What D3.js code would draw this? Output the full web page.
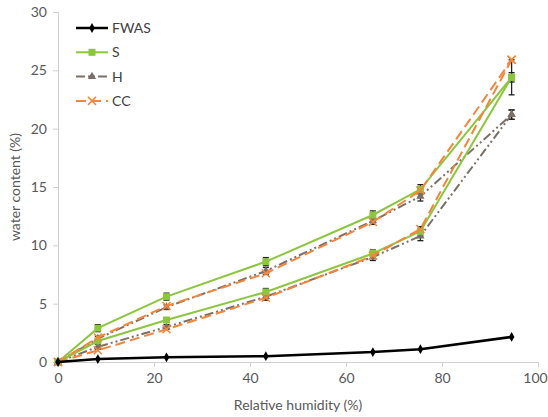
<!DOCTYPE html>
<html>
<head>
<meta charset="utf-8">
<title>Water content vs relative humidity</title>
<script src="https://d3js.org/d3.v7.min.js"></script>
<style>
  body { margin: 0; background: #fff; font-family: Lato, "Open Sans", sans-serif; }
</style>
</head>
<body>
<svg id="chart"></svg>
<script>
// relative humidity points (%)
var rh = [0, 8.3, 22.6, 43.3, 65.6, 75.5, 94.5];

// water content (%) - lower branch = sorption, upper branch = desorption
var fwas = [0, 0.25, 0.4, 0.5, 0.85, 1.1, 2.15];
var sLow = [0, 1.8, 3.6, 6.0, 9.3, 11.2, 24.4];
var sHigh = [0, 2.9, 5.6, 8.6, 12.6, 14.8, 24.4];
var hLow = [0, 1.3, 3.0, 5.6, 9.0, 10.8, 21.2];
var hHigh = [0, 2.0, 4.7, 7.8, 12.1, 14.2, 21.2];
var ccLow = [0, 1.0, 2.8, 5.5, 9.1, 11.4, 25.9];
var ccHigh = [0, 2.1, 4.8, 7.6, 12.0, 14.7, 25.9];

// error bar half-heights
var sErr = [0, 0.3, 0.3, 0.35, 0.35, 0.4, 1.5];
var hErr = [0, 0.2, 0.2, 0.3, 0.3, 0.4, 0.4];

var xTicks = [0, 20, 40, 60, 80, 100];
var yTicks = [0, 5, 10, 15, 20, 25, 30];

var W = 548, H = 417;
var margin = {top: 12, right: 10, bottom: 55, left: 58},
    width = 538 - margin.left,
    height = 362 - margin.top;

var svg = d3.select("#chart").attr("width", W).attr("height", H);
var g = svg.append("g").attr("transform", "translate(" + margin.left + "," + margin.top + ")");

var x = d3.scaleLinear().domain([0, 100]).range([0, width]);
var y = d3.scaleLinear().domain([0, 30]).range([height, 0]);

// axes
var xAxis = g.append("g")
  .attr("transform", "translate(0," + height + ")")
  .call(d3.axisBottom(x).tickValues(xTicks).tickSize(5).tickPadding(6));
var yAxis = g.append("g")
  .call(d3.axisLeft(y).tickValues(yTicks).tickSize(5).tickPadding(6));

[xAxis, yAxis].forEach(function(a) {
  a.select(".domain").attr("stroke", "#d0d0d0");
  a.selectAll(".tick line").attr("stroke", "#d0d0d0");
  a.selectAll("text").attr("fill", "#595959").style("font-size", "14px")
    .style("font-family", "Lato, sans-serif");
});
// keep the last x label inside the frame
xAxis.selectAll(".tick text").filter(function(d) { return d === 100; }).attr("dx", -3);

svg.append("text")
  .attr("x", margin.left + width / 2).attr("y", 410)
  .attr("text-anchor", "middle")
  .attr("fill", "#595959").style("font-size", "14px")
  .text("Relative humidity (%)");
svg.append("text")
  .attr("transform", "translate(20," + (margin.top + height / 2) + ")rotate(-90)")
  .attr("text-anchor", "middle")
  .attr("fill", "#595959").style("font-size", "14px")
  .text("water content (%)");

var line = d3.line()
  .x(function(d) { return x(d[0]); })
  .y(function(d) { return y(d[1]); });

function pts(vals) { return rh.map(function(r, i) { return [r, vals[i]]; }); }

var green = "#8cc63e", orange = "#f5853a", grey = "#7b7068";

var series = [
  {name: "H", vals: hLow, color: grey, dash: "9,3,2,3,2,3", w: 2, sym: "tri"},
  {name: "H", vals: hHigh, color: grey, dash: "9,3,2,3,2,3", w: 2, sym: "tri"},
  {name: "S", vals: sLow, color: green, dash: null, w: 2, sym: "sq"},
  {name: "S", vals: sHigh, color: green, dash: null, w: 2, sym: "sq"},
  {name: "CC", vals: ccLow, color: orange, dash: "10,5", w: 2, sym: "x"},
  {name: "CC", vals: ccHigh, color: orange, dash: "10,5", w: 2, sym: "x"},
  {name: "FWAS", vals: fwas, color: "#000", dash: null, w: 2.5, sym: "dia"}
];

// error bars
function errBars(vals, errs) {
  var eg = g.append("g");
  rh.forEach(function(r, i) {
    if (!errs[i]) return;
    var cx = x(r), y1 = y(vals[i] + errs[i]), y2 = y(vals[i] - errs[i]);
    eg.append("line").attr("x1", cx).attr("x2", cx).attr("y1", y1).attr("y2", y2)
      .attr("stroke", "#222").attr("stroke-width", 1.3);
    [y1, y2].forEach(function(yy) {
      eg.append("line").attr("x1", cx - 3).attr("x2", cx + 3).attr("y1", yy).attr("y2", yy)
        .attr("stroke", "#222").attr("stroke-width", 1.3);
    });
  });
}

function marker(sel, sym, color) {
  if (sym === "sq") {
    sel.append("rect").attr("x", -3.5).attr("y", -3.5).attr("width", 7).attr("height", 7).attr("fill", color);
  } else if (sym === "tri") {
    sel.append("path").attr("d", d3.symbol().type(d3.symbolTriangle).size(30)()).attr("fill", color);
  } else if (sym === "x") {
    sel.append("path").attr("d", "M-4,-4L4,4M-4,4L4,-4").attr("stroke", color).attr("stroke-width", 1.5).attr("fill", "none");
  } else if (sym === "dia") {
    sel.append("path").attr("d", d3.symbol().type(d3.symbolDiamond).size(28)()).attr("fill", color);
  }
}

errBars(hHigh, hErr);
errBars(hLow, hErr);
errBars(sHigh, sErr);
errBars(sLow, hErr);

series.forEach(function(s) {
  g.append("path").datum(pts(s.vals))
    .attr("d", line)
    .attr("fill", "none")
    .attr("stroke", s.color)
    .attr("stroke-width", s.w)
    .attr("stroke-dasharray", s.dash);
  g.selectAll(null).data(pts(s.vals)).enter().append("g")
    .attr("transform", function(d) { return "translate(" + x(d[0]) + "," + y(d[1]) + ")"; })
    .each(function() { marker(d3.select(this), s.sym, s.color); });
});

// legend
var legendItems = [
  {name: "FWAS", color: "#000", dash: null, w: 2.5, sym: "dia"},
  {name: "S", color: green, dash: null, w: 2, sym: "sq"},
  {name: "H", color: grey, dash: "9,3,2,3,2,3", w: 2, sym: "tri"},
  {name: "CC", color: orange, dash: "10,5", w: 2, sym: "x"}
];
var lg = svg.append("g");
legendItems.forEach(function(d, i) {
  var yy = 28 + i * 24.3;
  lg.append("line").attr("x1", 76).attr("x2", 108).attr("y1", yy).attr("y2", yy)
    .attr("stroke", d.color).attr("stroke-width", d.w).attr("stroke-dasharray", d.dash);
  marker(lg.append("g").attr("transform", "translate(92," + yy + ")"), d.sym, d.color);
  lg.append("text").attr("x", 112).attr("y", yy + 5)
    .attr("fill", "#404040").style("font-size", "14px").text(d.name);
});
</script>
</body>
</html>
